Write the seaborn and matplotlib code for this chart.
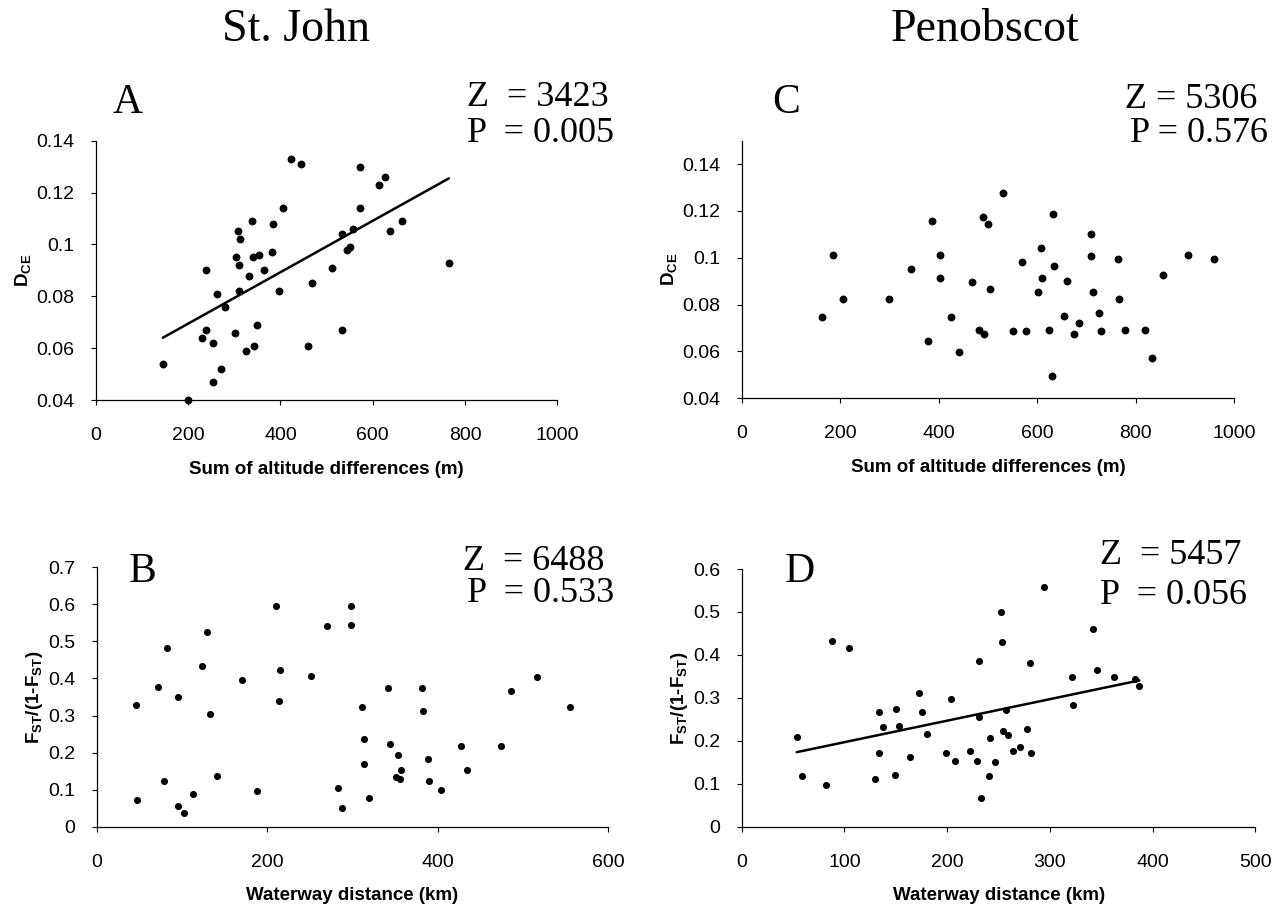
import matplotlib
matplotlib.use('Agg')
import matplotlib.pyplot as plt
import seaborn as sns
import numpy as np

# panel A: St. John, altitude
A_x = [145, 200, 238, 238, 230, 254, 254, 270, 262, 280, 301, 304, 307, 313, 311,
       311, 326, 332, 338, 341, 353, 342, 350, 365, 381, 383, 396, 405, 422, 444,
       460, 468, 512, 533, 533, 545, 550, 557, 572, 572, 614, 626, 638, 663, 765]
A_y = [0.054, 0.040, 0.090, 0.067, 0.064, 0.062, 0.047, 0.052, 0.081, 0.076, 0.066, 0.095, 0.105, 0.102, 0.092,
       0.082, 0.059, 0.088, 0.109, 0.095, 0.096, 0.061, 0.069, 0.090, 0.097, 0.108, 0.082, 0.114, 0.133, 0.131,
       0.061, 0.085, 0.091, 0.104, 0.067, 0.098, 0.099, 0.106, 0.130, 0.114, 0.123, 0.126, 0.105, 0.109, 0.093]

# panel C: Penobscot, altitude
C_x = [162, 185, 205, 299, 344, 378, 387, 402, 402, 425, 440, 468, 481, 491, 490,
       499, 505, 530, 550, 570, 578, 601, 607, 610, 624, 630, 633, 635, 655, 661,
       675, 684, 710, 709, 714, 764, 767, 726, 730, 779, 819, 833, 855, 906, 960]
C_y = [0.0746, 0.1012, 0.0824, 0.0824, 0.0951, 0.0645, 0.1157, 0.1012, 0.0914, 0.0746, 0.0596, 0.0896, 0.0692, 0.0673, 0.1174,
       0.1145, 0.0867, 0.1278, 0.0687, 0.0982, 0.0687, 0.0854, 0.1042, 0.0914, 0.0692, 0.0494, 0.1185, 0.0963, 0.0753, 0.0902,
       0.0673, 0.0721, 0.1101, 0.1006, 0.0854, 0.0994, 0.0822, 0.0764, 0.0687, 0.0693, 0.0693, 0.0572, 0.0927, 0.1011, 0.0993]

# panel B: St. John, waterway
B_x = [46, 47, 72, 79, 83, 95, 95, 103, 113, 124, 129, 133, 141, 170, 188,
       211, 214, 215, 251, 270, 283, 288, 298, 298, 311, 314, 314, 320, 342, 344,
       354, 357, 351, 356, 382, 383, 389, 390, 404, 427, 435, 475, 486, 517, 555]
B_y = [0.328, 0.073, 0.377, 0.123, 0.483, 0.350, 0.055, 0.036, 0.088, 0.433, 0.525, 0.305, 0.137, 0.396, 0.096,
       0.596, 0.339, 0.423, 0.407, 0.541, 0.104, 0.050, 0.596, 0.543, 0.323, 0.236, 0.168, 0.077, 0.373, 0.222,
       0.194, 0.152, 0.134, 0.129, 0.373, 0.312, 0.183, 0.123, 0.099, 0.217, 0.152, 0.217, 0.365, 0.404, 0.323]

# panel D: Penobscot, waterway
D_x = [53.5, 58.7, 82.2, 87.7, 104, 129.7, 134, 134, 137.9, 148.7, 150.6, 153.2, 164, 172.8, 175.1,
       180.6, 198.5, 203.7, 208, 221.7, 228.5, 231.1, 231.1, 232.8, 240.6, 241.9, 246.1, 252, 253.3, 254.6,
       259.5, 257.2, 263.7, 270.9, 277.4, 280.7, 281.7, 294, 321.1, 322.7, 342, 346.2, 362.8, 383, 387]
D_y = [0.210, 0.117, 0.098, 0.433, 0.415, 0.111, 0.172, 0.266, 0.232, 0.120, 0.274, 0.235, 0.163, 0.311, 0.268,
       0.216, 0.172, 0.297, 0.153, 0.176, 0.153, 0.387, 0.255, 0.068, 0.117, 0.206, 0.150, 0.501, 0.429, 0.222,
       0.213, 0.271, 0.176, 0.186, 0.228, 0.382, 0.172, 0.558, 0.349, 0.284, 0.460, 0.366, 0.349, 0.345, 0.328]

sns.set_style('ticks')
plt.rcParams['font.family'] = ['Liberation Sans', 'DejaVu Sans']
plt.rcParams['mathtext.fontset'] = 'custom'
plt.rcParams['mathtext.rm'] = 'Liberation Sans'
plt.rcParams['mathtext.bf'] = 'Liberation Sans:bold'
plt.rcParams['text.color'] = 'black'
plt.rcParams['axes.labelcolor'] = 'black'

SERIF = 'Liberation Serif'
W, H = 1280, 911

fig = plt.figure(figsize=(12.8, 9.11), dpi=100)


def panel(rect, x, y, xlim, xstep, ylim, ystep, xlabel, ylabel, fit, size):
    ax = fig.add_axes(rect)
    sns.scatterplot(x=x, y=y, ax=ax, color='black', s=size, linewidth=0, clip_on=False, zorder=3)
    if fit:
        # least squares trend line, as in the original figure
        sns.regplot(x=np.array(x), y=np.array(y), ax=ax, scatter=False, ci=None, truncate=True,
                    line_kws=dict(color='black', lw=1.8))
    ax.set_xlim(*xlim)
    ax.set_ylim(*ylim)
    ax.set_xticks(np.arange(xlim[0], xlim[1] + xstep / 2, xstep))
    ax.set_yticks(np.arange(ylim[0], ylim[1] + 1e-9, ystep))
    ax.xaxis.set_major_formatter(plt.FuncFormatter(lambda v, p: f'{v:g}'))
    ax.yaxis.set_major_formatter(plt.FuncFormatter(lambda v, p: f'{round(v, 3):g}'))
    ax.tick_params(direction='out', length=3.5, width=0.8, colors='black', labelsize=14)
    ax.tick_params(axis='x', pad=16)
    ax.tick_params(axis='y', pad=12)
    for s in ['top', 'right']:
        ax.spines[s].set_visible(False)
    for s in ['left', 'bottom']:
        ax.spines[s].set_linewidth(0.9)
        ax.spines[s].set_color('black')
    ax.set_xlabel(xlabel, fontsize=13.5, fontweight='bold', labelpad=12)
    ax.set_ylabel(ylabel, fontsize=13.5, fontweight='bold', labelpad=2)
    return ax


def ftext(px, py, s, size, ha='left'):
    fig.text(px / W, 1 - py / H, s, fontsize=size, family=SERIF, ha=ha, va='center', color='black')


alt_label = 'Sum of altitude differences (m)'
way_label = 'Waterway distance (km)'
d_label = r'D$_{\mathbf{CE}}$'
f_label = r'F$_{\mathbf{ST}}$/(1-F$_{\mathbf{ST}}$)'

panel([0.075, 0.5609, 0.3603, 0.2847], A_x, A_y, (0, 1000), 200, (0.04, 0.14), 0.02,
      alt_label, d_label, True, 32)
panel([0.5797, 0.5628, 0.3844, 0.2828], C_x, C_y, (0, 1000), 200, (0.04, 0.15), 0.02,
      alt_label, d_label, False, 32)
panel([0.0755, 0.0925, 0.3995, 0.2848], B_x, B_y, (0, 600), 200, (0, 0.7), 0.1,
      way_label, f_label, False, 26)
panel([0.5795, 0.0925, 0.4013, 0.2829], D_x, D_y, (0, 500), 100, (0, 0.6), 0.1,
      way_label, f_label, True, 26)

ftext(296, 30, 'St. John', 33, ha='center')
ftext(985, 30, 'Penobscot', 33, ha='center')

ftext(128, 103, 'A', 30, ha='center')
ftext(786, 103, 'C', 30, ha='center')
ftext(143, 572, 'B', 30, ha='center')
ftext(800, 572, 'D', 30, ha='center')

ftext(467, 98, 'Z  = 3423', 26)
ftext(467, 134, 'P  = 0.005', 26)
ftext(1125, 100, 'Z = 5306', 26)
ftext(1130, 133, 'P = 0.576', 26)
ftext(463, 562, 'Z  = 6488', 26)
ftext(467, 594, 'P  = 0.533', 26)
ftext(1100, 556, 'Z  = 5457', 26)
ftext(1100, 595, 'P  = 0.056', 26)

fig.savefig('out.png', dpi=100, facecolor='white')
